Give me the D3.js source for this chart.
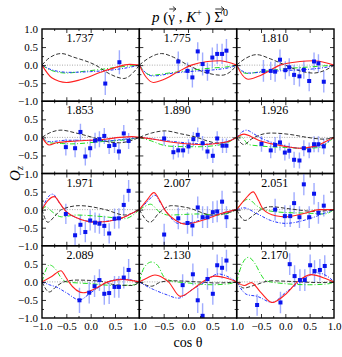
<!DOCTYPE html>
<html><head><meta charset="utf-8">
<script src="https://cdn.jsdelivr.net/npm/d3@7"></script>
<style>body{margin:0;background:#fff}</style></head>
<body><svg id="c" width="342" height="357"></svg>
<script>
// ---------------- DATA ----------------
const energies = ["1.737","1.775","1.810","1.853","1.890","1.926","1.971","2.007","2.051","2.089","2.130","2.170"];
const xTicksFirst = [-1,-0.5,0,0.5,1];
const xTicksOther = [-0.5,0,0.5,1];
const yTicksFirst = [-1,-0.5,0,0.5,1];
const yTicksOther = [-1,-0.5,0,0.5];

const dataX = [
 [0.30,0.59],
 [-0.20,-0.01,0.09,0.20,0.30,0.40,0.50,0.60,0.70,0.79],
 [-0.45,-0.30,-0.21,-0.11,0.00,0.08,0.18,0.29,0.38,0.49,0.59,0.68,0.79],
 [-0.51,-0.32,-0.21,-0.11,-0.01,0.09,0.18,0.28,0.38,0.49,0.58,0.68,0.78],
 [-0.49,-0.30,-0.20,-0.10,0.01,0.11,0.20,0.30,0.40,0.51,0.60,0.71,0.79],
 [-0.49,-0.30,-0.21,-0.11,-0.01,0.08,0.18,0.29,0.38,0.49,0.59,0.68,0.79],
 [-0.51,-0.32,-0.21,-0.11,-0.01,0.09,0.18,0.28,0.38,0.49,0.58,0.68,0.78],
 [-0.49,-0.20,-0.01,0.09,0.20,0.30,0.40,0.51,0.60,0.70,0.79],
 [-0.21,-0.01,0.10,0.18,0.29,0.38,0.49,0.59,0.68,0.79],
 [-0.23,-0.03,0.08,0.18,0.28,0.38,0.49,0.58,0.68,0.78],
 [-0.11,0.10,0.20,0.30,0.40,0.51,0.60,0.70,0.79],
 [-0.58,-0.10,0.09,0.19,0.30,0.40,0.51,0.60,0.71,0.81]
];
const dataY = [
 [-0.51,0.08],
 [0.10,-0.16,-0.34,0.38,0.03,-0.18,0.21,0.31,0.31,0.40],
 [-0.16,-0.16,-0.18,0.15,-0.14,-0.06,-0.27,-0.31,-0.13,-0.44,0.10,0.05,-0.46],
 [-0.27,-0.30,0.15,-0.53,-0.30,-0.09,-0.05,0.04,-0.24,-0.21,-0.39,0.11,-0.10],
 [-0.03,-0.41,-0.36,-0.36,-0.25,-0.05,0.07,-0.16,-0.39,-0.51,-0.03,-0.23,-0.23],
 [-0.18,-0.36,-0.21,-0.14,-0.42,-0.37,-0.62,-0.64,-0.30,-0.36,-0.19,-0.19,-0.25],
 [-0.12,-0.71,-0.42,-0.62,-0.30,-0.36,-0.39,-0.45,-0.66,-0.25,-0.24,0.13,0.52],
 [-0.69,-0.24,-0.37,-0.44,0.06,-0.21,-0.21,-0.07,-0.05,0.22,-0.21],
 [0.00,-0.18,-0.18,0.18,-0.21,0.70,-0.21,0.44,-0.09,0.11],
 [-0.51,-0.30,-0.12,0.05,-0.33,-0.31,-0.14,-0.14,0.12,0.33],
 [-0.09,0.21,-0.51,-0.94,0.08,-0.33,0.46,0.39,0.59],
 [-0.64,-0.57,0.49,0.16,0.05,0.05,0.46,0.30,0.33,0.44]
];
const dataErr = [
 [0.32,0.33],
 [0.28,0.23,0.28,0.25,0.32,0.25,0.28,0.28,0.28,0.32],
 [0.30,0.25,0.28,0.28,0.25,0.25,0.28,0.28,0.25,0.28,0.25,0.25,0.30],
 [0.23,0.25,0.23,0.25,0.25,0.22,0.22,0.22,0.22,0.22,0.23,0.23,0.22],
 [0.20,0.20,0.20,0.20,0.20,0.20,0.20,0.20,0.20,0.20,0.20,0.20,0.20],
 [0.22,0.22,0.22,0.22,0.22,0.22,0.22,0.22,0.22,0.22,0.22,0.22,0.22],
 [0.28,0.30,0.28,0.28,0.28,0.28,0.28,0.28,0.28,0.28,0.28,0.28,0.30],
 [0.30,0.30,0.30,0.30,0.30,0.30,0.30,0.30,0.30,0.30,0.30],
 [0.30,0.30,0.30,0.30,0.30,0.30,0.30,0.30,0.30,0.30],
 [0.35,0.30,0.30,0.30,0.30,0.30,0.30,0.30,0.30,0.30],
 [0.30,0.30,0.35,0.35,0.30,0.30,0.30,0.30,0.30],
 [0.30,0.30,0.30,0.30,0.30,0.30,0.30,0.30,0.30,0.30]
];

const curveBlack = [
 [[-1,0],[-0.85,0.2],[-0.6,0.32],[-0.35,0.22],[0.1,0.0],[0.4,-0.25],[0.68,-0.37],[0.88,-0.2],[1,0]],
 [[-1,0],[-0.8,0.2],[-0.54,0.32],[-0.3,0.22],[0,0],[0.35,-0.2],[0.69,-0.28],[0.9,-0.15],[1,0]],
 [[-1,0],[-0.8,0.2],[-0.59,0.29],[-0.3,0.17],[0,0],[0.3,-0.16],[0.58,-0.22],[0.85,-0.12],[1,0]],
 [[-1,0],[-0.85,0.12],[-0.61,0.2],[-0.3,0.12],[0.04,0],[0.35,-0.12],[0.59,-0.15],[0.85,-0.08],[1,0]],
 [[-1,0],[-0.75,0.12],[-0.47,0.18],[-0.15,0.1],[0.18,0],[0.4,-0.1],[0.62,-0.16],[0.85,-0.1],[1,0]],
 [[-1,0],[-0.85,-0.2],[-0.7,-0.05],[-0.3,0.12],[0.1,0.08],[0.45,0],[0.8,-0.05],[1,0]],
 [[-1,0],[-0.88,-0.35],[-0.75,-0.2],[-0.6,0],[-0.23,0.11],[0.3,0],[0.7,-0.15],[1,0]],
 [[-1,0],[-0.78,-0.35],[-0.6,-0.1],[-0.34,0.11],[0,0.05],[0.5,-0.15],[0.85,-0.08],[1,0]],
 [[-1,0],[-0.83,-0.3],[-0.65,-0.15],[-0.5,0],[-0.3,0.08],[0.1,0.02],[0.6,-0.05],[1,0]],
 [[-1,0],[-0.85,-0.28],[-0.7,-0.12],[-0.55,0],[-0.3,0.05],[0.2,0.02],[0.5,-0.08],[0.85,-0.1],[1,0]],
 [[-1,0],[-0.75,-0.12],[-0.55,0],[-0.3,0.03],[0.2,0],[0.6,-0.03],[1,0]],
 [[-1,0],[-0.85,-0.17],[-0.65,-0.1],[-0.3,0.03],[0.3,0],[0.7,-0.02],[1,0]]
];
const curveRed = [
 [[-1,0],[-0.8,-0.35],[-0.5,-0.48],[-0.2,-0.4],[0.2,-0.2],[0.5,-0.07],[0.8,0.02],[1,0]],
 [[-1,0],[-0.85,-0.35],[-0.71,-0.48],[-0.5,-0.4],[-0.2,-0.18],[0.07,0],[0.4,0.1],[0.66,0.12],[0.9,0.05],[1,0]],
 [[-1,0],[-0.88,-0.28],[-0.76,-0.39],[-0.5,-0.28],[-0.11,0],[0.3,0.1],[0.58,0.12],[0.85,0.06],[1,0]],
 [[-1,0],[-0.85,-0.21],[-0.7,-0.15],[-0.3,-0.1],[0.3,-0.05],[0.6,0],[0.85,0.02],[1,0]],
 [[-1,0],[-0.7,-0.05],[-0.4,-0.12],[-0.1,-0.17],[0.3,-0.2],[0.7,-0.15],[0.9,-0.07],[1,0]],
 [[-1,0],[-0.85,0.09],[-0.7,0.02],[-0.55,-0.08],[-0.2,-0.2],[0.3,-0.3],[0.6,-0.25],[0.85,-0.1],[1,0]],
 [[-1,0],[-0.88,0.25],[-0.75,0.36],[-0.62,0.15],[-0.54,0],[-0.3,-0.22],[0.1,-0.35],[0.6,-0.25],[0.85,-0.1],[1,0]],
 [[-1,0],[-0.85,0.25],[-0.7,0.47],[-0.58,0.25],[-0.48,0],[-0.25,-0.3],[-0.05,-0.4],[0.4,-0.25],[0.7,-0.1],[1,0]],
 [[-1,0],[-0.82,0.3],[-0.66,0.49],[-0.55,0.25],[-0.45,0],[-0.2,-0.17],[0,-0.2],[0.4,-0.1],[0.7,0],[1,0]],
 [[-1,0],[-0.8,0.15],[-0.61,0.31],[-0.52,0.15],[-0.45,0],[-0.15,-0.3],[0.1,-0.18],[0.35,0],[0.65,0.07],[1,0]],
 [[-1,0],[-0.85,0.1],[-0.68,0.19],[-0.5,0.1],[-0.4,0],[-0.16,-0.4],[0.1,-0.2],[0.3,0],[0.55,0.16],[0.85,0.08],[1,0]],
 [[-1,0],[-0.84,-0.1],[-0.7,-0.02],[-0.5,-0.3],[-0.27,-0.57],[0,-0.35],[0.25,0],[0.52,0.2],[0.85,0.08],[1,0]]
];
const curveGreen = [
 [[-1,0],[-0.8,-0.15],[-0.5,-0.22],[-0.2,-0.18],[0.2,-0.12],[0.6,-0.05],[1,0]],
 [[-1,0],[-0.88,-0.2],[-0.75,-0.28],[-0.4,-0.22],[0,-0.15],[0.5,-0.08],[0.85,-0.04],[1,0]],
 [[-1,0],[-0.9,-0.18],[-0.79,-0.23],[-0.5,-0.18],[0,-0.1],[0.5,-0.05],[1,0]],
 [[-1,0],[-0.85,-0.15],[-0.6,-0.17],[-0.4,-0.18],[0.2,-0.12],[0.6,-0.08],[0.9,-0.03],[1,0]],
 [[-1,0],[-0.75,-0.1],[-0.5,-0.22],[-0.3,-0.25],[0.2,-0.26],[0.6,-0.22],[0.85,-0.12],[1,0]],
 [[-1,0],[-0.93,0.04],[-0.75,-0.2],[-0.5,-0.24],[0,-0.28],[0.4,-0.3],[0.7,-0.28],[0.9,-0.12],[1,0]],
 [[-1,0],[-0.92,0.08],[-0.8,-0.05],[-0.6,-0.2],[-0.3,-0.15],[0.3,-0.2],[0.7,-0.25],[0.9,-0.12],[1,0]],
 [[-1,0],[-0.9,0.08],[-0.77,0.15],[-0.6,-0.05],[-0.4,-0.15],[0.2,-0.12],[0.6,-0.15],[0.9,-0.06],[1,0]],
 [[-1,0],[-0.88,0.2],[-0.76,0.29],[-0.6,0.12],[-0.45,0],[0,-0.08],[0.5,-0.1],[0.8,-0.12],[1,0]],
 [[-1,0],[-0.93,0.3],[-0.85,0.47],[-0.72,0.35],[-0.6,0.1],[-0.5,0],[0,-0.05],[0.5,-0.1],[0.9,-0.08],[1,0]],
 [[-1,0],[-0.9,0.4],[-0.75,0.55],[-0.62,0.45],[-0.5,0.15],[-0.35,0.03],[0,-0.03],[0.5,-0.08],[0.85,-0.05],[1,0]],
 [[-1,0],[-0.9,0.45],[-0.76,0.68],[-0.62,0.5],[-0.5,0.2],[-0.4,0.03],[0,-0.05],[0.5,-0.08],[0.9,-0.05],[1,0]]
];
const curveBlue = [
 [[-1,0],[-0.8,-0.13],[-0.45,-0.2],[0,-0.18],[0.4,-0.14],[0.8,-0.06],[1,0]],
 [[-1,0],[-0.88,-0.2],[-0.72,-0.3],[-0.3,-0.22],[0.2,-0.16],[0.6,-0.12],[0.9,-0.05],[1,0]],
 [[-1,0],[-0.9,-0.15],[-0.75,-0.22],[-0.4,-0.18],[0,-0.15],[0.6,-0.1],[0.9,-0.04],[1,0]],
 [[-1,0],[-0.85,-0.12],[-0.5,-0.08],[-0.2,-0.08],[0.3,-0.1],[0.7,-0.05],[1,0]],
 [[-1,0],[-0.7,-0.05],[-0.2,-0.13],[0.3,-0.18],[0.7,-0.15],[0.9,-0.07],[1,0]],
 [[-1,0],[-0.8,0.2],[-0.65,0.1],[-0.5,-0.02],[-0.1,-0.2],[0.3,-0.3],[0.7,-0.24],[0.9,-0.1],[1,0]],
 [[-1,0],[-0.9,0.3],[-0.78,0.43],[-0.65,0.2],[-0.54,0],[-0.3,-0.22],[0.1,-0.34],[0.6,-0.25],[0.85,-0.1],[1,0]],
 [[-1,0],[-0.85,0.2],[-0.68,0.4],[-0.55,0.15],[-0.45,-0.05],[-0.2,-0.38],[0.1,-0.35],[0.4,-0.2],[0.75,-0.08],[1,0]],
 [[-1,0],[-0.85,0.05],[-0.6,-0.1],[-0.3,-0.3],[0,-0.38],[0.5,-0.25],[0.8,-0.1],[1,0]],
 [[-1,0],[-0.85,-0.08],[-0.71,-0.14],[-0.5,-0.3],[-0.23,-0.5],[0,-0.3],[0.35,0],[0.65,0.08],[1,0]],
 [[-1,0],[-0.85,-0.12],[-0.71,-0.21],[-0.45,-0.35],[-0.2,-0.45],[0.1,-0.2],[0.35,0],[0.62,0.22],[0.88,0.1],[1,0]],
 [[-1,0],[-0.79,-0.35],[-0.58,-0.4],[-0.27,-0.57],[0,-0.3],[0.3,0],[0.66,0.25],[0.9,0.12],[1,0]]
];

// ---------------- LAYOUT ----------------
const L = 42, R = 334, T = 29, B = 318;
const pw = (R - L) / 3, ph = (B - T) / 4;
const FONT = "'Liberation Serif','Times New Roman',serif";
const svg = d3.select("#c");
const defs = svg.append("defs");

const styles = [
  {data: curveGreen, color: "#22dd22", dash: "5,2,1,2", w: 1},
  {data: curveBlack, color: "#333333", dash: "4,2", w: 1},
  {data: curveBlue,  color: "#2233ff", dash: "3,1.5,1,1.5", w: 1},
  {data: curveRed,   color: "#ff2020", dash: null, w: 1.1}
];

energies.forEach((lab, i) => {
  const col = i % 3, row = Math.floor(i / 3);
  const x0 = L + col * pw, y0 = T + row * ph;
  const x = d3.scaleLinear().domain([-1, 1]).range([x0, x0 + pw]);
  const y = d3.scaleLinear().domain([-1, 1]).range([y0 + ph, y0]);

  defs.append("clipPath").attr("id", "cp" + i).append("rect")
    .attr("x", x0).attr("y", y0).attr("width", pw).attr("height", ph);
  const g = svg.append("g").attr("clip-path", `url(#cp${i})`);

  // zero dotted line
  g.append("line").attr("x1", x(-1)).attr("x2", x(1)).attr("y1", y(0)).attr("y2", y(0))
    .attr("stroke", "#aaaaaa").attr("stroke-width", 1).attr("stroke-dasharray", "1,1.5");

  // error bars
  const xs = dataX[i], ys = dataY[i], es = dataErr[i];
  xs.forEach((xv, k) => {
    g.append("line").attr("x1", x(xv)).attr("x2", x(xv))
      .attr("y1", y(ys[k] - es[k])).attr("y2", y(ys[k] + es[k]))
      .attr("stroke", "#8090ff").attr("stroke-opacity", 0.75).attr("stroke-width", 1.4);
  });

  // model curves
  const line = d3.line().x(d => x(d[0])).y(d => y(d[1])).curve(d3.curveMonotoneX);
  styles.forEach(s => {
    g.append("path").attr("d", line(s.data[i])).attr("fill", "none")
      .attr("stroke", s.color).attr("stroke-width", s.w)
      .attr("stroke-dasharray", s.dash);
  });

  // points
  xs.forEach((xv, k) => {
    g.append("rect").attr("x", x(xv) - 2).attr("y", y(ys[k]) - 2)
      .attr("width", 4).attr("height", 4).attr("fill", "#0a14ee");
  });

  // inward ticks
  const tickG = svg.append("g").attr("stroke", "#000");
  const xMaj = [-0.5, 0, 0.5], xMin = [-0.75, -0.25, 0.25, 0.75];
  const yMaj = [-0.5, 0, 0.5], yMin = [-0.75, -0.25, 0.25, 0.75];
  const mk = (axis, pos, vals, size) => {
    const a = tickG.append("g").attr("transform", pos)
      .call(axis.tickValues(vals).tickSize(size).tickFormat(""));
    a.select(".domain").remove();
    a.selectAll("line").attr("stroke", "#000").attr("stroke-width", 0.8);
  };
  mk(d3.axisTop(x), `translate(0,${y0 + ph})`, xMaj, 4);
  mk(d3.axisTop(x), `translate(0,${y0 + ph})`, xMin, 2);
  mk(d3.axisBottom(x), `translate(0,${y0})`, xMaj, 4);
  mk(d3.axisBottom(x), `translate(0,${y0})`, xMin, 2);
  mk(d3.axisRight(y), `translate(${x0},0)`, yMaj, 4);
  mk(d3.axisRight(y), `translate(${x0},0)`, yMin, 2);
  mk(d3.axisLeft(y), `translate(${x0 + pw},0)`, yMaj, 4);
  mk(d3.axisLeft(y), `translate(${x0 + pw},0)`, yMin, 2);

  // border
  svg.append("rect").attr("x", x0).attr("y", y0).attr("width", pw).attr("height", ph)
    .attr("fill", "none").attr("stroke", "#000").attr("stroke-width", 1.4);

  // label
  svg.append("text").attr("x", x(-0.22)).attr("y", y(0.75)).attr("dy", "0.35em")
    .attr("text-anchor", "middle").attr("font-family", FONT).attr("font-size", 12)
    .text(lab);

  // tick labels
  if (col === 0) {
    const a = svg.append("g").attr("transform", `translate(${x0},0)`)
      .call(d3.axisLeft(y).tickValues(row === 0 ? yTicksFirst : yTicksOther)
        .tickSize(0).tickPadding(4).tickFormat(d3.format(".1f")));
    a.select(".domain").remove();
    a.selectAll("text").attr("font-family", FONT).attr("font-size", 11).attr("fill", "#000");
  }
  if (row === 3) {
    const a = svg.append("g").attr("transform", `translate(0,${y0 + ph})`)
      .call(d3.axisBottom(x).tickValues(col === 0 ? xTicksFirst : xTicksOther)
        .tickSize(0).tickPadding(4).tickFormat(d3.format(".1f")));
    a.select(".domain").remove();
    a.selectAll("text").attr("font-family", FONT).attr("font-size", 11).attr("fill", "#000");
  }
});

// ---------------- TITLE ----------------
const pieces = [
  {t: "p", it: true}, {t: " ("}, {t: "\u03B3", arrow: true}, {t: " , "},
  {t: "K", it: true}, {t: "+", sup: true}, {t: " ) "}, {t: "\u03A3", arrow: true}, {t: "0", sup: true}
];
const tg = svg.append("g");
let cx = 0;
const base = 22;
const items = [];
pieces.forEach(p => {
  const te = tg.append("text").attr("x", cx).attr("y", p.sup ? base - 6 : base)
    .attr("font-family", FONT).attr("font-size", p.sup ? 10 : 15)
    .attr("font-style", p.it ? "italic" : "normal").text(p.t)
    .attr("xml:space", "preserve").style("white-space", "pre");
  const w = te.node().getComputedTextLength();
  items.push({p, x: cx, w});
  cx += w;
});
const shift = 190 - cx / 2;
tg.attr("transform", `translate(${shift},0)`);
items.forEach(it => {
  if (it.p.arrow) {
    const ax0 = it.x + 1, ax1 = it.x + it.w + 1, ay = base - 13;
    tg.append("path").attr("d", `M${ax0},${ay}L${ax1},${ay}M${ax1 - 3},${ay - 2.5}L${ax1},${ay}L${ax1 - 3},${ay + 2.5}`)
      .attr("stroke", "#000").attr("stroke-width", 0.8).attr("fill", "none");
  }
});

// ---------------- AXIS TITLES ----------------
const yl = svg.append("text").attr("transform", `translate(20,${(T + B) / 2}) rotate(-90)`)
  .attr("text-anchor", "middle").attr("font-family", FONT).attr("font-size", 15);
yl.append("tspan").attr("font-style", "italic").text("O");
yl.append("tspan").attr("font-style", "italic").attr("font-size", 10).attr("dy", 3).text("z");

svg.append("text").attr("x", 188).attr("y", 347).attr("text-anchor", "middle")
  .attr("font-family", FONT).attr("font-size", 14).text("cos \u03B8");
</script>
</body></html>
